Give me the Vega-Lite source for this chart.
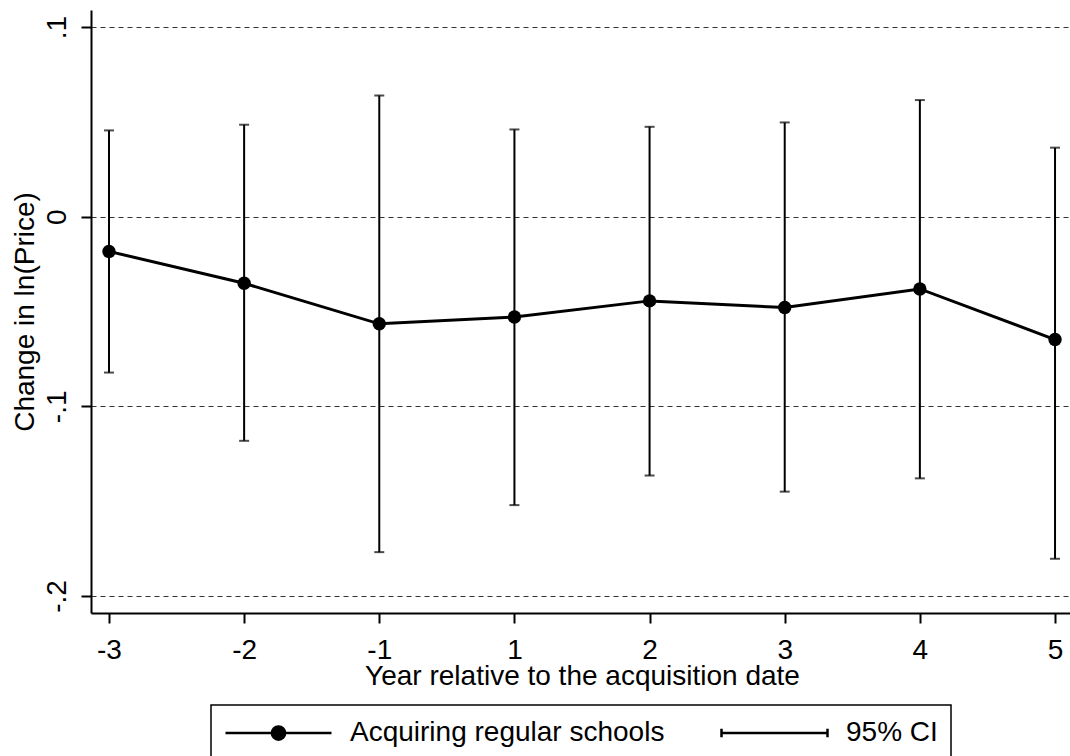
{
  "$schema": "https://vega.github.io/schema/vega-lite/v6.json",
  "autosize": {"type": "none"},
  "width": 982,
  "height": 603,
  "padding": {"left": 91, "top": 10, "right": 0, "bottom": 143},
  "background": "white",
  "config": {"view": {"stroke": null}, "font": "Liberation Sans"},
  "data": {
    "values": [
      {"year": -3, "est": -0.0183, "lo": -0.0822, "hi": 0.0455},
      {"year": -2, "est": -0.0351, "lo": -0.1182, "hi": 0.0485},
      {"year": -1, "est": -0.0565, "lo": -0.1769, "hi": 0.0639},
      {"year": 1, "est": -0.0529, "lo": -0.1521, "hi": 0.0460},
      {"year": 2, "est": -0.0444, "lo": -0.1365, "hi": 0.0474},
      {"year": 3, "est": -0.0479, "lo": -0.1450, "hi": 0.0497},
      {"year": 4, "est": -0.0381, "lo": -0.1380, "hi": 0.0615},
      {"year": 5, "est": -0.0648, "lo": -0.1804, "hi": 0.0364}
    ]
  },
  "encoding": {
    "x": {
      "field": "year",
      "type": "ordinal",
      "scale": {"type": "point", "padding": 0.133},
      "axis": {
        "title": "Year relative to the acquisition date",
        "domainColor": "black", "domainWidth": 2,
        "tickColor": "black", "tickSize": 10, "tickWidth": 2,
        "labelAngle": 0, "labelFontSize": 28, "labelColor": "black",
        "labelBaseline": "alphabetic", "labelPadding": 35,
        "titleFontSize": 28, "titleFontWeight": "normal", "titleColor": "black",
        "titleBaseline": "alphabetic", "titleY": 71
      }
    }
  },
  "layer": [
    {
      "mark": {"type": "errorbar", "ticks": true, "size": 10, "thickness": 2},
      "encoding": {
        "y": {
          "field": "lo", "type": "quantitative",
          "scale": {"domain": [-0.209, 0.109], "nice": false, "zero": false},
          "axis": {
            "title": "Change in ln(Price)",
            "values": [-0.2, -0.1, 0, 0.1],
            "grid": true, "gridDash": [5, 4], "gridColor": "#333", "gridWidth": 1,
            "domainColor": "black", "domainWidth": 2,
            "tickColor": "black", "tickSize": 10, "tickWidth": 2,
            "labelAngle": -90, "labelAlign": "center", "labelBaseline": "alphabetic",
            "labelPadding": 16, "labelFontSize": 28, "labelColor": "black",
            "labelFlush": false, "labelOverlap": false,
            "labelExpr": "datum.value > 0.05 ? '.1' : datum.value > -0.05 ? '0' : datum.value > -0.15 ? '-.1' : '-.2'",
            "titleFontSize": 28, "titleFontWeight": "normal", "titleColor": "black",
            "titleAngle": -90, "titleBaseline": "alphabetic", "titleAlign": "center",
            "titleX": -58, "titleY": 301.5
          }
        },
        "y2": {"field": "hi"},
        "color": {
          "datum": "95% CI", "type": "nominal",
          "scale": {"domain": ["Acquiring regular schools", "95% CI"], "range": ["black", "black"]}
        }
      }
    },
    {
      "mark": {"type": "line", "strokeWidth": 3, "point": {"filled": true, "size": 180, "opacity": 1}},
      "encoding": {
        "y": {"field": "est", "type": "quantitative", "title": "Change in ln(Price)"},
        "color": {
          "datum": "Acquiring regular schools", "type": "nominal",
          "scale": {"domain": ["Acquiring regular schools", "95% CI"], "range": ["black", "black"]},
          "legend": {
            "orient": "none", "legendX": 120, "legendY": 695,
            "direction": "horizontal", "title": null,
            "strokeColor": "black", "padding": 13,
            "labelFontSize": 28, "labelColor": "black", "labelOffset": 17, "labelLimit": 500,
            "columnPadding": 55, "symbolSize": 11236, "symbolStrokeWidth": 2, "clipHeight": 30,
            "encode": {
              "legend": {"update": {"strokeWidth": {"value": 1.5}}},
              "symbols": {
                "update": {
                  "shape": {"signal": "datum.value === '95% CI' ? 'M-1,0H1M-1,-0.08V0.08M1,-0.08V0.08' : 'M-1,0H1M0.125,0A0.125,0.125,0,1,1,-0.125,0A0.125,0.125,0,1,1,0.125,0Z'"},
                  "fill": {"value": "black"},
                  "stroke": {"value": "black"},
                  "strokeWidth": {"value": 2.5},
                  "opacity": {"value": 1}
                }
              }
            }
          }
        }
      }
    }
  ]
}
